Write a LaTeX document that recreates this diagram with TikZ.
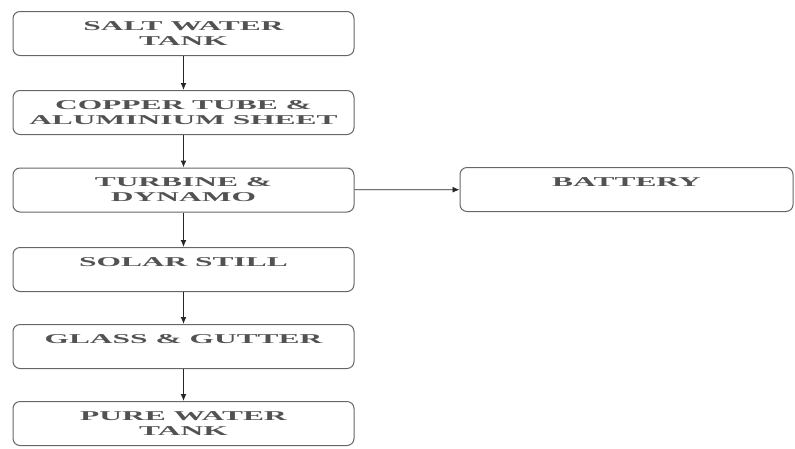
\documentclass[tikz,border=0pt]{standalone}
\usepackage{fontspec}
\usetikzlibrary{arrows.meta}
\newfontfamily\boxfont[FakeStretch=2.33]{Liberation Serif}
\definecolor{boxline}{gray}{0.4}
\definecolor{boxtext}{gray}{0.32}
\tikzset{
  stage/.style={draw=boxline, line width=1pt, rounded corners=7pt,
    minimum height=44pt, align=center, text=boxtext,
    font=\boxfont\bfseries\fontsize{13.5}{15}\selectfont},
  flow/.style={-{Latex[length=7pt,width=6pt]}, line width=1.2pt, black!85}
}
\begin{document}
\begin{tikzpicture}[x=1pt,y=1pt]
\useasboundingbox (0,0) rectangle (795,-448);
\node[stage, minimum width=341pt] (salt) at (183.5,-33.5) {SALT WATER\\TANK};
\node[stage, minimum width=341pt] (copper) at (183.5,-112.5) {COPPER TUBE \&\\ALUMINIUM SHEET};
\node[stage, minimum width=341pt] (turbine) at (183.5,-190) {TURBINE \&\\DYNAMO};
\node[stage, minimum width=341pt] (still) at (183.5,-269.5) {SOLAR STILL\\\mbox{}};
\node[stage, minimum width=341pt] (glass) at (183.5,-346.5) {GLASS \& GUTTER\\\mbox{}};
\node[stage, minimum width=341pt] (pure) at (183.5,-423.5) {PURE WATER\\TANK};
\node[stage, minimum width=333pt] (battery) at (626.5,-189.5) {BATTERY\\\mbox{}};
%\draw[help lines] (0,0) grid (795,-448);
\draw[flow] (salt) -- (copper);
\draw[flow] (copper) -- (turbine);
\draw[flow] (turbine) -- (still);
\draw[flow] (still) -- (glass);
\draw[flow] (glass) -- (pure);
\draw[flow, line width=0.8pt] (turbine) -- (battery);
\end{tikzpicture}
\end{document}
